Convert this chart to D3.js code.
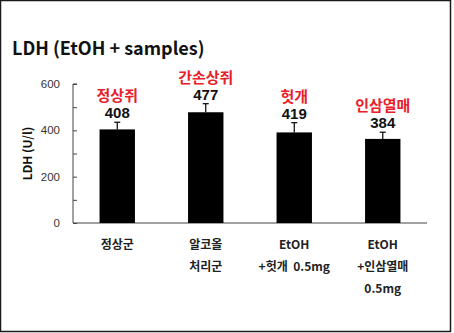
<!DOCTYPE html>
<html>
<head>
<meta charset="utf-8">
<script src="https://cdn.jsdelivr.net/npm/d3@7"></script>
<style>
  body { margin: 0; background: #fff; }
  svg { display: block; font-family: "Noto Sans CJK KR", "Noto Sans", sans-serif; }
</style>
</head>
<body>
<div id="chart"></div>
<script>
// chart data
var groups = ["g1", "g2", "g3", "g4"];
var xLabels = [["정상군"], ["알코올", "처리군"], ["EtOH", "+헛개  0.5mg"], ["EtOH", "+인삼열매", "0.5mg"]];
var barValues = [404, 478, 391, 363];
var errValues = [31, 37, 42, 29];
var topNames = ["정상쥐", "간손상쥐", "헛개", "인삼열매"];
var topNumbers = ["408", "477", "419", "384"];
var yTicks = [0, 200, 400, 600];

var svgWidth = 454;
var svgHeight = 333;

var svg = d3.select("#chart")
  .append("svg")
  .attr("width", svgWidth)
  .attr("height", svgHeight);

// frame
svg.append("rect")
  .attr("x", 0.5).attr("y", 0.5)
  .attr("width", 450).attr("height", 331)
  .attr("fill", "none")
  .attr("stroke", "#1a1a1a")
  .attr("stroke-width", 1.5);

// title
svg.append("text")
  .attr("x", 12).attr("y", 55)
  .style("font-size", "18px")
  .style("font-weight", "bold")
  .style("white-space", "pre")
  .attr("fill", "#111")
  .text("LDH (EtOH + samples)");

var x = d3.scaleBand()
  .domain(groups)
  .range([73, 427])
  .paddingInner(0.6)
  .paddingOuter(0.3);

var y = d3.scaleLinear()
  .domain([0, 600])
  .range([223, 84]);

// y axis with inward ticks
var yAxis = svg.append("g")
  .attr("transform", "translate(73,0)")
  .call(d3.axisRight(y).tickValues(d3.range(0, 601, 100)).tickSize(4).tickFormat(""));
yAxis.select(".domain").attr("stroke", "#444").attr("d", "M4," + y(600) + "H0V" + y(0));
yAxis.selectAll(".tick line").attr("stroke", "#444");

svg.append("g")
  .selectAll("text")
  .data(yTicks)
  .enter()
  .append("text")
  .attr("x", 60)
  .attr("y", d => y(d) + 4)
  .attr("text-anchor", "end")
  .style("font-size", "11.5px")
  .style("font-family", "Arial, 'Liberation Sans', sans-serif")
  .attr("fill", "#333")
  .text(d => d);

// y label
svg.append("text")
  .attr("transform", "translate(32," + y(300) + ") rotate(-90)")
  .attr("text-anchor", "middle")
  .style("font-size", "12px")
  .style("font-weight", "bold")
  .attr("fill", "#111")
  .text("LDH (U/l)");

// x axis line
svg.append("line")
  .attr("x1", 73).attr("x2", 427)
  .attr("y1", y(0)).attr("y2", y(0))
  .attr("stroke", "#444")
  .attr("stroke-width", 1.2);

// bars
svg.append("g")
  .selectAll("rect")
  .data(groups)
  .enter()
  .append("rect")
  .attr("x", d => x(d))
  .attr("width", x.bandwidth())
  .attr("y", (d, i) => y(barValues[i]))
  .attr("height", (d, i) => y(0) - y(barValues[i]))
  .attr("fill", "#000");

// error bars (upper only)
var err = svg.append("g").attr("stroke", "#000").attr("stroke-width", 1.2);
groups.forEach(function(g, i) {
  var cx = x(g) + x.bandwidth() / 2;
  err.append("line")
    .attr("x1", cx).attr("x2", cx)
    .attr("y1", y(barValues[i])).attr("y2", y(barValues[i] + errValues[i]));
  err.append("line")
    .attr("x1", cx - 3).attr("x2", cx + 3)
    .attr("y1", y(barValues[i] + errValues[i])).attr("y2", y(barValues[i] + errValues[i]));
});

// value labels above bars
var labelTop = svg.append("g");
groups.forEach(function(g, i) {
  var cx = x(g) + x.bandwidth() / 2;
  var base = y(barValues[i] + errValues[i]) - 4;
  labelTop.append("text")
    .attr("x", cx).attr("y", base)
    .attr("text-anchor", "middle")
    .style("font-size", "15px")
    .style("font-weight", "bold")
    .style("font-family", "Arial, 'Liberation Sans', sans-serif")
    .attr("fill", "#111")
    .text(topNumbers[i]);
  labelTop.append("text")
    .attr("x", cx).attr("y", base - 17)
    .attr("text-anchor", "middle")
    .style("font-size", "15px")
    .style("font-weight", "bold")
    .attr("fill", "#e8202a")
    .text(topNames[i]);
});

// x labels
var xl = svg.append("g");
groups.forEach(function(g, i) {
  var cx = x(g) + x.bandwidth() / 2;
  xLabels[i].forEach(function(line, j) {
    xl.append("text")
      .attr("x", cx).attr("y", 249 + j * 22)
      .attr("text-anchor", "middle")
      .style("font-size", "12px")
      .style("font-weight", "bold")
      .attr("fill", "#222")
      .style("white-space", "pre")
      .text(line);
  });
});
</script>
</body>
</html>
